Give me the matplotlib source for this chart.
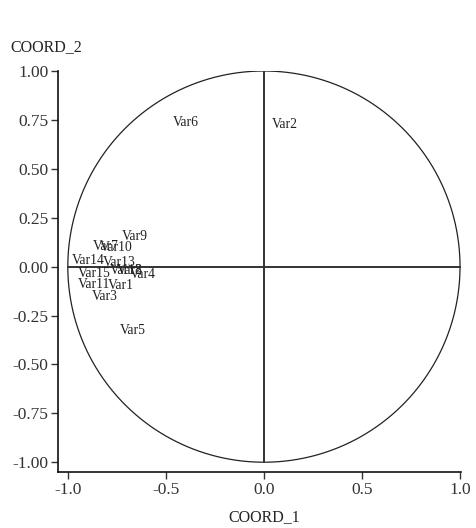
import matplotlib
matplotlib.use("Agg")
import matplotlib.pyplot as plt
import numpy as np

# Variable labels and their coordinates (COORD_1, COORD_2)
labels = ["Var1", "Var2", "Var3", "Var4", "Var5", "Var6", "Var7", "Var8",
          "Var9", "Var10", "Var11", "Var12", "Var13", "Var14", "Var15"]
coord1 = [-0.796, 0.041, -0.878, -0.684, -0.735, -0.464, -0.872, -0.750,
          -0.724, -0.837, -0.949, -0.786, -0.821, -0.980, -0.949]
coord2 = [-0.097, 0.728, -0.154, -0.041, -0.328, 0.738, 0.103, -0.021,
          0.154, 0.097, -0.092, -0.021, 0.021, 0.031, -0.036]

xticks = [-1.0, -0.5, 0.0, 0.5, 1.0]
yticks = [-1.00, -0.75, -0.50, -0.25, 0.00, 0.25, 0.50, 0.75, 1.00]

plt.rcParams['font.family'] = ['Liberation Serif', 'DejaVu Serif']

fig = plt.figure(figsize=(4.76, 5.28), dpi=100)
ax = fig.add_axes([58/476, 1-472/528, (461-58)/476, (472-71)/528])
ax.set_xlim(-1.05, 1.005)
ax.set_ylim(-1.05, 1.0)

# unit circle
t = np.linspace(0, 2*np.pi, 400)
ax.plot(np.cos(t), np.sin(t), color='#222222', lw=0.9)
# cross lines
ax.plot([-1, 1], [0, 0], color='#333333', lw=1.4)
ax.plot([0, 0], [-1, 1], color='#333333', lw=1.4)

for lab, x, y in zip(labels, coord1, coord2):
    ax.text(x, y, lab, ha='left', va='center', fontsize=9.8, color='#222222')

ax.spines['top'].set_visible(False)
ax.spines['right'].set_visible(False)
ax.spines['left'].set_bounds(-1.05, 1.0)
ax.spines['bottom'].set_bounds(-1.05, 1.005)
for s in ('left', 'bottom'):
    ax.spines[s].set_linewidth(1.2)
    ax.spines[s].set_color('#111111')

ax.set_xticks(xticks)
ax.set_xticklabels([f"{v:.1f}" for v in xticks])
ax.set_yticks(yticks)
ax.set_yticklabels([f"{v:.2f}" for v in yticks])
ax.tick_params(axis='both', direction='out', length=5, width=1, labelsize=12.5,
               colors='#333333', pad=2)

fig.text(10/476, 1-47/528, "COORD_2", ha='left', va='center', fontsize=11.5, color='#222222')
fig.text(264/476, 1-517/528, "COORD_1", ha='center', va='center', fontsize=11.5, color='#222222')

fig.savefig("out.png", dpi=100)
